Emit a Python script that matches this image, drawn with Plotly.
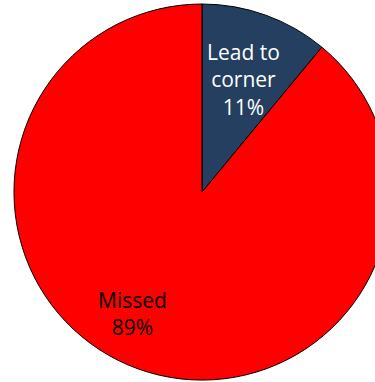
import plotly.graph_objects as go

# ─────────────────────────────────────────────────────────────────────────────
# DATA
# ─────────────────────────────────────────────────────────────────────────────
outcomes = ['Lead to corner', 'Missed']
shares = [11, 89]
slice_colors = ['#243F60', '#FF0000']
label_texts = ['Lead to<br>corner<br>11%', 'Missed<br>89%']

FONT = 'Open Sans, Noto Sans, sans-serif'
W, H = 404, 382

fig = go.Figure()
fig.add_trace(go.Pie(
    labels=outcomes, values=shares,
    sort=False, direction='clockwise', rotation=0,
    marker=dict(colors=slice_colors, line=dict(color='#000000', width=1)),
    textinfo='none', hoverinfo='label+percent',
    showlegend=False,
    domain=dict(x=[0, 1], y=[0.005, 0.9895]),
))

# slice labels placed like the original (inside, horizontal)
fig.add_annotation(text=label_texts[0], x=243 / W, y=1 - 79 / H,
                   xref='paper', yref='paper', showarrow=False,
                   xanchor='center', yanchor='middle',
                   font=dict(family=FONT, size=21, color='#FFFFFF'))
fig.add_annotation(text=label_texts[1], x=132 / W, y=1 - 313 / H,
                   xref='paper', yref='paper', showarrow=False,
                   xanchor='center', yanchor='middle',
                   font=dict(family=FONT, size=21, color='#000000'))

fig.update_layout(
    width=W, height=H,
    margin=dict(l=0, r=0, t=0, b=0),
    paper_bgcolor='#FFFFFF',
    plot_bgcolor='#FFFFFF',
)

fig.write_html(
    "out.html",
    config={'displayModeBar': False},
    post_script="document.body.style.margin='0';document.body.style.overflow='hidden';",
)
